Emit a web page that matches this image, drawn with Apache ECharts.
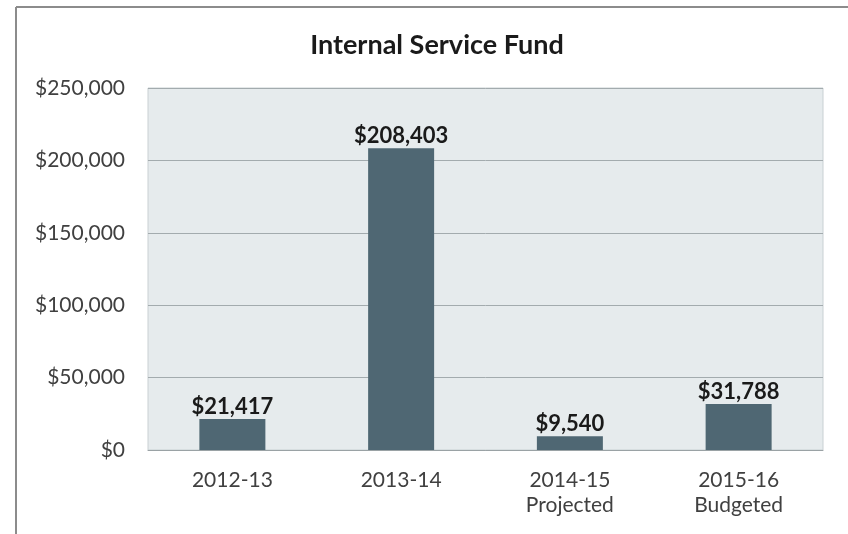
<!DOCTYPE html>
<html>
<head>
<meta charset="utf-8">
<script src="https://cdn.jsdelivr.net/npm/echarts@6/dist/echarts.min.js"></script>
<style>
	html, body { margin: 0; padding: 0; background: #fff; }
	#chart { width: 848px; height: 534px; }
</style>
</head>
<body>
<div id="chart"></div>
<script>
// 年度类别
const years = ['2012-13', '2013-14', '2014-15\nProjected', '2015-16\nBudgeted'];
// 各年度金额
const amounts = [21417, 208403, 9540, 31788];
// y轴刻度
const yTicks = [0, 50000, 100000, 150000, 200000, 250000];

const money = v => '$' + v.toLocaleString('en-US');

let myChart = echarts.init(document.getElementById('chart'));
myChart.setOption({
	backgroundColor: '#ffffff',
	textStyle: { fontFamily: 'Lato' },
	title: {
		text: 'Internal Service Fund',
		left: 432,
		top: 27,
		textAlign: 'center',
		textStyle: { fontSize: 27, fontWeight: 'bold', color: '#1a1a1a', fontFamily: 'Lato' }
	},
	grid: {
		left: 148,
		right: 25,
		top: 88,
		bottom: 84,
		show: true,
		backgroundColor: '#e6ebed',
		borderColor: '#c9d0d3',
		borderWidth: 1
	},
	xAxis: {
		type: 'category',
		data: years,
		axisLine: { lineStyle: { color: '#9aa2a5', width: 1 } },
		axisTick: { show: false },
		axisLabel: { color: '#404040', fontSize: 21, lineHeight: 25, margin: 18 }
	},
	yAxis: {
		type: 'value',
		min: yTicks[0],
		max: yTicks[yTicks.length - 1],
		interval: 50000,
		axisLine: { show: false },
		axisTick: { show: false },
		splitLine: { lineStyle: { color: '#a3abae', width: 1 } },
		axisLabel: { color: '#404040', fontSize: 21, margin: 23, formatter: money }
	},
	//外框线
	graphic: [
		{ type: 'line', shape: { x1: 16, y1: 7, x2: 848, y2: 7 }, style: { stroke: '#8c8c8c', lineWidth: 2 } },
		{ type: 'line', shape: { x1: 16, y1: 7, x2: 16, y2: 534 }, style: { stroke: '#8c8c8c', lineWidth: 2 } }
	],
	series: [
		{
			type: 'bar',
			data: amounts,
			barWidth: 66,
			itemStyle: { color: '#4f6773' },
			label: {
				show: true,
				position: 'top',
				distance: 1,
				formatter: p => money(p.value),
				fontSize: 22,
				fontWeight: 'bold',
				color: '#1a1a1a'
			}
		}
	]
});
</script>
</body>
</html>
